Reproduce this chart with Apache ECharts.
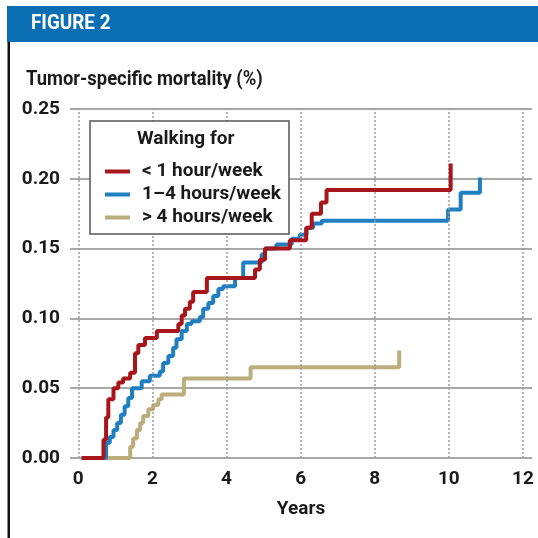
<!DOCTYPE html>
<html>
<head>
<meta charset="utf-8">
<script src="https://cdn.jsdelivr.net/npm/echarts@6/dist/echarts.min.js"></script>
<style>
  html, body { margin: 0; padding: 0; background: #fff; }
  #main { width: 538px; height: 538px; }
</style>
</head>
<body>
<div id="main"></div>
<script>
// [years, cumulative mortality], each step starts at the given year
var lessThan1 = [
  [0.09, 0], [0.68, 0.013], [0.75, 0.029], [0.81, 0.042], [0.95, 0.050], [1.08, 0.054],
  [1.21, 0.057], [1.40, 0.061], [1.53, 0.075], [1.62, 0.081], [1.80, 0.086], [2.12, 0.091],
  [2.70, 0.096], [2.79, 0.102], [2.88, 0.107], [3.01, 0.112], [3.10, 0.119], [3.47, 0.129],
  [4.77, 0.135], [4.90, 0.142], [5.04, 0.150], [5.71, 0.156], [6.15, 0.165], [6.30, 0.175],
  [6.55, 0.183], [6.70, 0.192], [10.05, 0.211]
];
var oneToFour = [
  [0.09, 0], [0.75, 0.011], [0.85, 0.015], [0.95, 0.020], [1.05, 0.025], [1.15, 0.031],
  [1.25, 0.037], [1.35, 0.043], [1.45, 0.050], [1.71, 0.055], [1.93, 0.059], [2.20, 0.062],
  [2.29, 0.068], [2.43, 0.073], [2.56, 0.079], [2.65, 0.085], [2.79, 0.091], [2.93, 0.096],
  [3.06, 0.098], [3.28, 0.101], [3.37, 0.107], [3.51, 0.111], [3.64, 0.116], [3.78, 0.121],
  [3.91, 0.123], [4.23, 0.129], [4.45, 0.140], [4.95, 0.146], [5.04, 0.150], [5.35, 0.153],
  [5.76, 0.157], [5.98, 0.160], [6.16, 0.165], [6.34, 0.168], [6.57, 0.170], [9.98, 0.178],
  [10.32, 0.190], [10.84, 0.201]
];
var moreThan4 = [
  [0.09, 0], [1.40, 0.008], [1.48, 0.014], [1.58, 0.020], [1.67, 0.025], [1.75, 0.030],
  [1.89, 0.035], [2.02, 0.038], [2.16, 0.042], [2.25, 0.0455], [2.85, 0.057], [4.65, 0.065],
  [8.66, 0.077]
];
var seriesNames = ['< 1 hour/week', '1\u20134 hours/week', '> 4 hours/week'];
var xTicks = [0, 2, 4, 6, 8, 10, 12];

var font = "Roboto, 'Liberation Sans', sans-serif";

var option = {
  backgroundColor: '#fff',
  animation: false,
  grid: {
    left: 70,
    right: 6,
    top: 109,
    bottom: 80
  },
  xAxis: {
    type: 'value',
    min: -0.224,
    max: 12.245,
    name: 'Years',
    nameLocation: 'middle',
    nameGap: 42,
    nameTextStyle: { fontFamily: font, fontWeight: 'bold', fontSize: 19, color: '#1a1a1a' },
    axisLine: { show: false },
    axisTick: { show: false },
    splitLine: { show: false },
    axisLabel: {
      customValues: xTicks,
      margin: 12,
      fontFamily: font,
      fontWeight: 'bold',
      fontSize: 19,
      color: '#1a1a1a'
    }
  },
  yAxis: {
    type: 'value',
    min: 0,
    max: 0.25,
    interval: 0.05,
    axisLine: { show: false },
    axisTick: { show: false },
    splitLine: { show: true, lineStyle: { color: '#8a8a8a', width: 1.5 } },
    axisLabel: {
      margin: 10,
      fontFamily: font,
      fontWeight: 'bold',
      fontSize: 19,
      color: '#1a1a1a',
      formatter: function (v) { return v.toFixed(2); }
    }
  },
  legend: {
    data: seriesNames,
    orient: 'vertical',
    left: 100,
    top: 157,
    icon: 'rect',
    itemWidth: 25,
    itemHeight: 4,
    itemGap: 4,
    z: 20,
    selectedMode: false,
    textStyle: {
      fontFamily: font,
      fontWeight: 'bold',
      fontSize: 19,
      color: '#1a1a1a',
      padding: [0, 0, 0, 7]
    }
  },
  graphic: [
    { type: 'rect', shape: { x: 7, y: 6, width: 531, height: 36 }, style: { fill: '#0a6fb2' }, z: 10 },
    { type: 'text', x: 31, y: 24, scaleX: 0.9, style: { text: 'FIGURE 2', fill: '#fff', font: 'bold 21px ' + font, verticalAlign: 'middle' }, z: 11 },
    { type: 'rect', shape: { x: 7.5, y: 42, width: 2.5, height: 496 }, style: { fill: '#111' }, z: 10 },
    { type: 'text', x: 26, y: 80, scaleX: 0.92, style: { text: 'Tumor-specific mortality (%)', fill: '#1a1a1a', font: 'bold 20px ' + font, verticalAlign: 'middle' }, z: 11 },
    { type: 'rect', shape: { x: 90, y: 121, width: 199, height: 113 }, style: { fill: '#fff', stroke: '#555', lineWidth: 1.5 }, z: 10 },
    { type: 'text', x: 137, y: 139, style: { text: 'Walking for', fill: '#1a1a1a', font: 'bold 19px ' + font, verticalAlign: 'middle' }, z: 11 }
  ],
  series: [
    {
      // dotted vertical guides at each labelled year
      type: 'line',
      data: [],
      z: 1,
      silent: true,
      markLine: {
        silent: true,
        symbol: 'none',
        label: { show: false },
        lineStyle: { type: [2, 2], color: '#9a9a9a', width: 1.5 },
        data: xTicks.map(function (t) { return { xAxis: t }; })
      }
    },
    {
      name: seriesNames[2],
      type: 'line',
      step: 'end',
      showSymbol: false,
      z: 3,
      data: moreThan4,
      color: '#bcad7c',
      lineStyle: { width: 4 }
    },
    {
      name: seriesNames[1],
      type: 'line',
      step: 'end',
      showSymbol: false,
      z: 4,
      data: oneToFour,
      color: '#1f7fc1',
      lineStyle: { width: 4 }
    },
    {
      name: seriesNames[0],
      type: 'line',
      step: 'end',
      showSymbol: false,
      z: 5,
      data: lessThan1,
      color: '#a8161c',
      lineStyle: { width: 4 }
    }
  ]
};

var myChart = echarts.init(document.getElementById('main'), null, { renderer: 'canvas' });
myChart.setOption(option);
</script>
</body>
</html>
